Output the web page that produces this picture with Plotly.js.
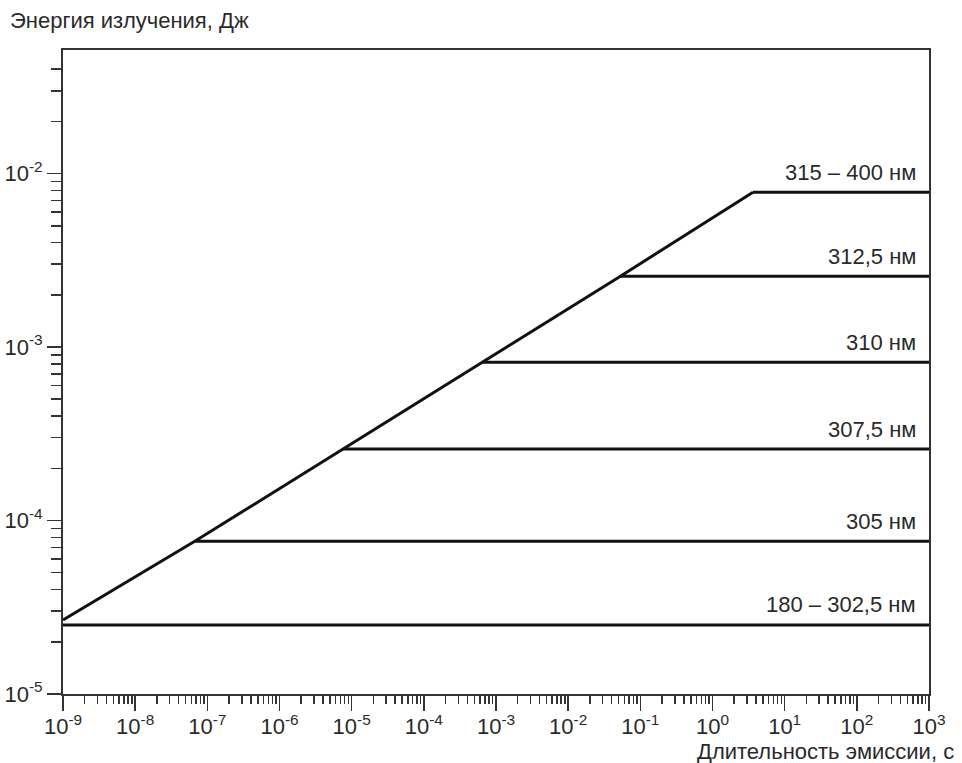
<!DOCTYPE html>
<html>
<head>
<meta charset="utf-8">
<script src="https://cdn.plot.ly/plotly-3.0.1.min.js"></script>
<style>html,body{margin:0;padding:0;background:#fff;}#chart{width:962px;height:763px;}</style>
</head>
<body>
<div id="chart"></div>
<script>
// Band labels and their energy levels (J), with start of each plateau (s)
const bandLabels = ["180 – 302,5 нм", "305 нм", "307,5 нм", "310 нм", "312,5 нм", "315 – 400 нм"];
const bandLevels = [2.5e-5, 7.6e-5, 2.58e-4, 8.17e-4, 2.56e-3, 7.8e-3];
const bandStarts = [1e-9, 6.7e-8, 7.6e-6, 6.4e-4, 5.3e-2, 3.64];
const bandEnd = 1e3;

// Diagonal envelope (E ~ t^0.25)
const diagX = [1e-9, 6.7e-8, 7.6e-6, 6.4e-4, 5.3e-2, 3.64];
const diagY = [2.67e-5, 7.6e-5, 2.58e-4, 8.17e-4, 2.56e-3, 7.8e-3];

// Tick labels
const xTickVals = [1e-9,1e-8,1e-7,1e-6,1e-5,1e-4,1e-3,1e-2,1e-1,1e0,1e1,1e2,1e3];
const xTickText = ["10<sup>-9</sup>","10<sup>-8</sup>","10<sup>-7</sup>","10<sup>-6</sup>","10<sup>-5</sup>","10<sup>-4</sup>","10<sup>-3</sup>","10<sup>-2</sup>","10<sup>-1</sup>","10<sup>0</sup>","10<sup>1</sup>","10<sup>2</sup>","10<sup>3</sup>"];
const yTickVals = [1e-5,1e-4,1e-3,1e-2];
const yTickText = ["10<sup>-5</sup>","10<sup>-4</sup>","10<sup>-3</sup>","10<sup>-2</sup>"];

function minorTicks(fromExp, toExp, maxVal) {
  const out = [];
  for (let e = fromExp; e < toExp; e++) {
    for (let k = 2; k <= 9; k++) {
      const v = k * Math.pow(10, e);
      if (v <= maxVal) out.push(v);
    }
  }
  return out;
}
const xMinor = minorTicks(-9, 3, 1e3);
const yMinor = minorTicks(-5, -1, 0.045);

const lineColor = "#111";
const axisColor = "#333";
const textColor = "#2a2a2a";
const font = "Liberation Sans, Arial, sans-serif";

const traces = [];
traces.push({x: diagX, y: diagY, mode: "lines", line: {color: lineColor, width: 3}, hoverinfo: "skip", showlegend: false});
for (let i = 0; i < bandLevels.length; i++) {
  traces.push({x: [bandStarts[i], bandEnd], y: [bandLevels[i], bandLevels[i]], mode: "lines",
    line: {color: lineColor, width: 3}, hoverinfo: "skip", showlegend: false});
}

const annotations = bandLabels.map((t, i) => ({
  text: t, xref: "paper", x: 1, xanchor: "right", xshift: -11,
  yref: "y", y: Math.log10(bandLevels[i]), yanchor: "middle", yshift: 20,
  showarrow: false, font: {family: font, size: 22, color: textColor}
}));
annotations.push({text: "Энергия излучения, Дж", xref: "paper", x: (8-63)/866, xanchor: "left",
  yref: "paper", y: 1 + (50-20)/644, yanchor: "middle", showarrow: false,
  font: {family: font, size: 22, color: textColor}});
annotations.push({text: "Длительность эмиссии, с", xref: "paper", x: (956-63)/866, xanchor: "right",
  yref: "paper", y: -(752-694)/644, yanchor: "middle", showarrow: false,
  font: {family: font, size: 22, color: textColor}});

const layout = {
  width: 962, height: 763,
  margin: {l: 63, r: 33, t: 50, b: 69},
  paper_bgcolor: "#fff", plot_bgcolor: "#fff",
  showlegend: false,
  xaxis: {
    type: "log", range: [-9, 3], tickmode: "array", tickvals: xTickVals, ticktext: xTickText,
    ticks: "outside", ticklen: 15, tickwidth: 1.5, tickcolor: axisColor,
    showline: true, linewidth: 2, linecolor: axisColor, mirror: true,
    showgrid: false, zeroline: false, ticklabelstandoff: -3,
    tickfont: {family: font, size: 22, color: textColor},
    minor: {tickmode: "array", tickvals: xMinor, ticks: "outside", ticklen: 8, tickwidth: 1.5, tickcolor: axisColor, showgrid: false}
  },
  yaxis: {
    type: "log", range: [-5, -1.288], tickmode: "array", tickvals: yTickVals, ticktext: yTickText,
    ticks: "outside", ticklen: 14, tickwidth: 1.5, tickcolor: axisColor,
    showline: true, linewidth: 2, linecolor: axisColor, mirror: true,
    showgrid: false, zeroline: false,
    tickfont: {family: font, size: 22, color: textColor},
    minor: {tickmode: "array", tickvals: yMinor, ticks: "outside", ticklen: 10, tickwidth: 1.5, tickcolor: axisColor, showgrid: false}
  },
  annotations: annotations
};

Plotly.newPlot("chart", traces, layout, {staticPlot: true, displayModeBar: false});
</script>
</body>
</html>
